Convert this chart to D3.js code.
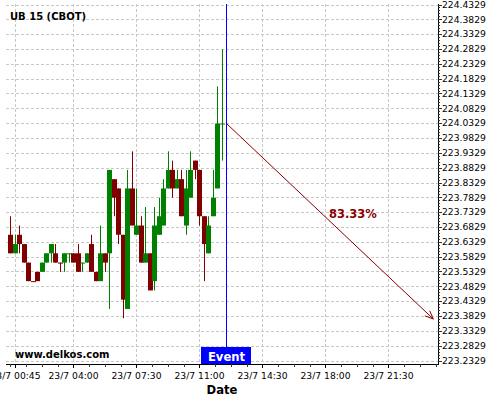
<!DOCTYPE html>
<html>
<head>
<meta charset="utf-8">
<script src="https://cdn.jsdelivr.net/npm/d3@7"></script>
<style>
  html, body { margin: 0; padding: 0; background: #fff; }
  svg { display: block; font-family: "DejaVu Sans", sans-serif; }
</style>
</head>
<body>
<svg id="chart" width="500" height="400"></svg>
<script>
// ---- data (15-minute candles, 23/7) ----
const times = ["00:30","00:45","01:00","01:15","01:30","01:45","02:00","02:15","02:30","02:45","03:00","03:15",
  "03:30","03:45","04:00","04:15","04:30","04:45","05:00","05:15","05:30","05:45","06:00","06:15",
  "06:30","06:45","07:00","07:15","07:30","07:45","08:00","08:15","08:30","08:45","09:00","09:15",
  "09:30","09:45","10:00","10:15","10:30","10:45","11:00","11:15","11:30","11:45","12:00","12:15"];
const openV = [223.6567,223.5942,223.6567,223.6254,223.5629,223.5004,223.5317,223.5317,223.5629,223.5942,223.5942,223.5629,
  223.5629,223.5942,223.5942,223.5942,223.5629,223.5629,223.6254,223.5317,223.5004,223.5942,223.5942,223.8442,
  223.8129,223.6567,223.4067,223.8129,223.6567,223.6879,223.5629,223.5942,223.5004,223.6567,223.6879,223.8129,
  223.8754,223.8129,223.8442,223.6879,223.7817,223.9067,223.8754,223.7192,223.5942,223.7192,223.8129,224.0317];
const closeV = [223.5942,223.6254,223.6254,223.5629,223.5004,223.4998,223.5004,223.5629,223.5942,223.6254,223.5629,223.5622,
  223.5942,223.5942,223.5629,223.5317,223.5629,223.5942,223.5317,223.5004,223.5942,223.5629,223.8754,223.7817,
  223.6567,223.4379,223.8129,223.6879,223.6879,223.5629,223.5942,223.4692,223.6879,223.7192,223.8129,223.8754,
  223.8129,223.8442,223.7192,223.8129,223.8754,223.8754,223.7192,223.6254,223.6879,223.7817,224.0317,224.0317];
const highV = [223.7192,223.6567,223.6879,223.6254,223.5629,223.5004,223.5317,223.5629,223.5942,223.6254,223.6254,223.5629,
  223.5942,223.5942,223.5942,223.6254,223.5629,223.5942,223.6567,223.5317,223.6879,223.5942,223.8754,223.8442,
  223.8129,223.6567,223.8754,223.9379,223.8129,223.7192,223.7504,223.5942,223.7504,223.7817,223.8442,223.9379,
  223.9067,223.8754,223.8754,223.8754,223.9379,223.9067,223.8754,223.7192,223.7192,223.8754,224.1567,224.2817];
const lowV = [223.5942,223.5942,223.5942,223.5629,223.5004,223.4998,223.5004,223.5317,223.5629,223.5629,223.5629,223.5317,
  223.5317,223.5629,223.5629,223.5317,223.5317,223.5629,223.5317,223.5004,223.5004,223.5317,223.4067,223.7192,
  223.6254,223.3754,223.4067,223.6879,223.6567,223.5629,223.5629,223.4692,223.4692,223.6567,223.6879,223.8129,
  223.7817,223.8129,223.7192,223.6567,223.7817,223.8442,223.6879,223.5004,223.5942,223.7192,223.8129,223.9067];

const xTickLabels = ["00:45","04:00","07:30","11:00","14:30","18:00","21:30"];
const yTickValues = d3.range(25).map(k => +(223.2329 + 0.05 * k).toFixed(4));
const eventTime = "12:30";
const targetTime = "24:00";
const targetValue = 223.3728;
const percentLabel = "83.33%";
const title = "UB 15 (CBOT)";
const watermark = "www.delkos.com";

// ---- layout ----
const svg = d3.select("#chart");
const L = 6, R = 438, T = 4, B = 364;
const day = (hm) => { const [h, m] = hm.split(":").map(Number); return new Date(2024, 6, 23, h, m); };
const x = d3.scaleTime()
  .domain([new Date(2024, 6, 23, 0, 15, 40), new Date(2024, 6, 24, 0, 15, 40)])
  .range([L, R]);
const y = d3.scaleLinear().domain([223.2329, 224.4329]).range([360.5, 4.5]);

const candles = times.map((t, i) => ({ t: day(t), o: openV[i], h: highV[i], l: lowV[i], c: closeV[i] }));

// grid
const grid = svg.append("g").attr("stroke", "#c8c8c8").attr("stroke-dasharray", "3,2").attr("stroke-width", 1);
yTickValues.forEach(v => {
  grid.append("line").attr("x1", L).attr("x2", R)
    .attr("y1", Math.round(y(v)) + 0.5).attr("y2", Math.round(y(v)) + 0.5);
});
const xTicks = xTickLabels.map(day);
xTicks.forEach(t => {
  grid.append("line").attr("y1", T).attr("y2", B)
    .attr("x1", Math.round(x(t)) + 0.5).attr("x2", Math.round(x(t)) + 0.5);
});

// candles
const green = "#008000", red = "#800000";
const cg = svg.append("g");
candles.forEach(d => {
  const up = d.c >= d.o;
  const col = up ? green : red;
  const cx = Math.round(x(d.t));
  cg.append("line").attr("x1", cx + 0.5).attr("x2", cx + 0.5)
    .attr("y1", y(d.h)).attr("y2", y(d.l)).attr("stroke", col).attr("stroke-width", 1);
  const top = y(Math.max(d.o, d.c)), bot = y(Math.min(d.o, d.c));
  cg.append("rect").attr("x", cx - 2).attr("width", 5)
    .attr("y", top).attr("height", Math.max(1, bot - top)).attr("fill", col);
});

// event line
const ex = Math.round(x(day(eventTime))) + 0.5;
svg.append("line").attr("x1", ex).attr("x2", ex).attr("y1", T).attr("y2", B)
  .attr("stroke", "#0000ff").attr("stroke-width", 1);

// arrow
const last = candles[candles.length - 1];
const ax1 = ex, ay1 = y(last.c);
const tt = new Date(2024, 6, 24, 0, 0);
const ax2 = x(tt), ay2 = y(targetValue);
const arrowCol = "#8b0000";
svg.append("line").attr("x1", ax1).attr("y1", ay1).attr("x2", ax2).attr("y2", ay2)
  .attr("stroke", arrowCol).attr("stroke-width", 1);
const ang = Math.atan2(ay2 - ay1, ax2 - ax1);
const hl = 9, ha = 0.4;
svg.append("path")
  .attr("d", `M${ax2 - hl * Math.cos(ang - ha)},${ay2 - hl * Math.sin(ang - ha)} L${ax2},${ay2} L${ax2 - hl * Math.cos(ang + ha)},${ay2 - hl * Math.sin(ang + ha)}`)
  .attr("fill", "none").attr("stroke", arrowCol).attr("stroke-width", 1);
svg.append("text").attr("x", (ax1 + ax2) / 2 - 1).attr("y", (ay1 + ay2) / 2 - 3)
  .attr("fill", arrowCol).attr("font-weight", "bold").attr("font-size", "11.5px").text(percentLabel);

// axes lines
svg.append("line").attr("x1", L).attr("x2", R + 0.5).attr("y1", B + 0.5).attr("y2", B + 0.5).attr("stroke", "#000");
svg.append("line").attr("x1", R + 0.5).attr("x2", R + 0.5).attr("y1", T).attr("y2", B + 1).attr("stroke", "#000");

// right axis ticks
const ya = svg.append("g");
d3.range(0, 121).forEach(k => {
  const v = 223.2329 + 0.01 * k;
  const yy = Math.round(y(v)) + 0.5;
  ya.append("line").attr("x1", R).attr("x2", R + (k % 5 === 0 ? 4 : 2)).attr("y1", yy).attr("y2", yy).attr("stroke", "#333");
});
yTickValues.forEach(v => {
  ya.append("text").attr("x", R + 4).attr("y", y(v)).attr("dy", "0.35em")
    .attr("font-size", "9.2px").attr("fill", "#000").text(v.toFixed(4));
});

// bottom axis ticks
const xa = svg.append("g");
const minorStart = day("04:00");
d3.range(-4, 24).forEach(k => {
  const t = new Date(minorStart.getTime() + k * 52.5 * 60000);
  const xx = x(t);
  if (xx >= L && xx <= R) {
    xa.append("line").attr("x1", Math.round(xx) + 0.5).attr("x2", Math.round(xx) + 0.5)
      .attr("y1", B).attr("y2", B + 3).attr("stroke", "#333");
  }
});
xTicks.forEach((t, i) => {
  const xx = Math.round(x(t)) + 0.5;
  xa.append("line").attr("x1", xx).attr("x2", xx).attr("y1", B).attr("y2", B + 4).attr("stroke", "#000");
  xa.append("text").attr("x", xx).attr("y", 379).attr("text-anchor", "middle")
    .attr("font-size", "9.2px").attr("fill", "#000").text("23/7 " + xTickLabels[i]);
});

// event label
svg.append("rect").attr("x", ex - 25.5).attr("y", 347).attr("width", 50).attr("height", 17).attr("fill", "#0000ff");
svg.append("text").attr("x", ex).attr("y", 360.5).attr("text-anchor", "middle")
  .attr("fill", "#fff").attr("font-weight", "bold").attr("font-size", "11.6px").text("Event");

// title, watermark, axis title
svg.append("text").attr("x", 10).attr("y", 20).attr("font-weight", "bold").attr("font-size", "10px").text(title);
svg.append("text").attr("x", 15).attr("y", 357.5).attr("font-weight", "bold").attr("font-size", "10px").text(watermark);
svg.append("text").attr("x", 222).attr("y", 394).attr("text-anchor", "middle")
  .attr("font-weight", "bold").attr("font-size", "11.6px").text("Date");
</script>
</body>
</html>
